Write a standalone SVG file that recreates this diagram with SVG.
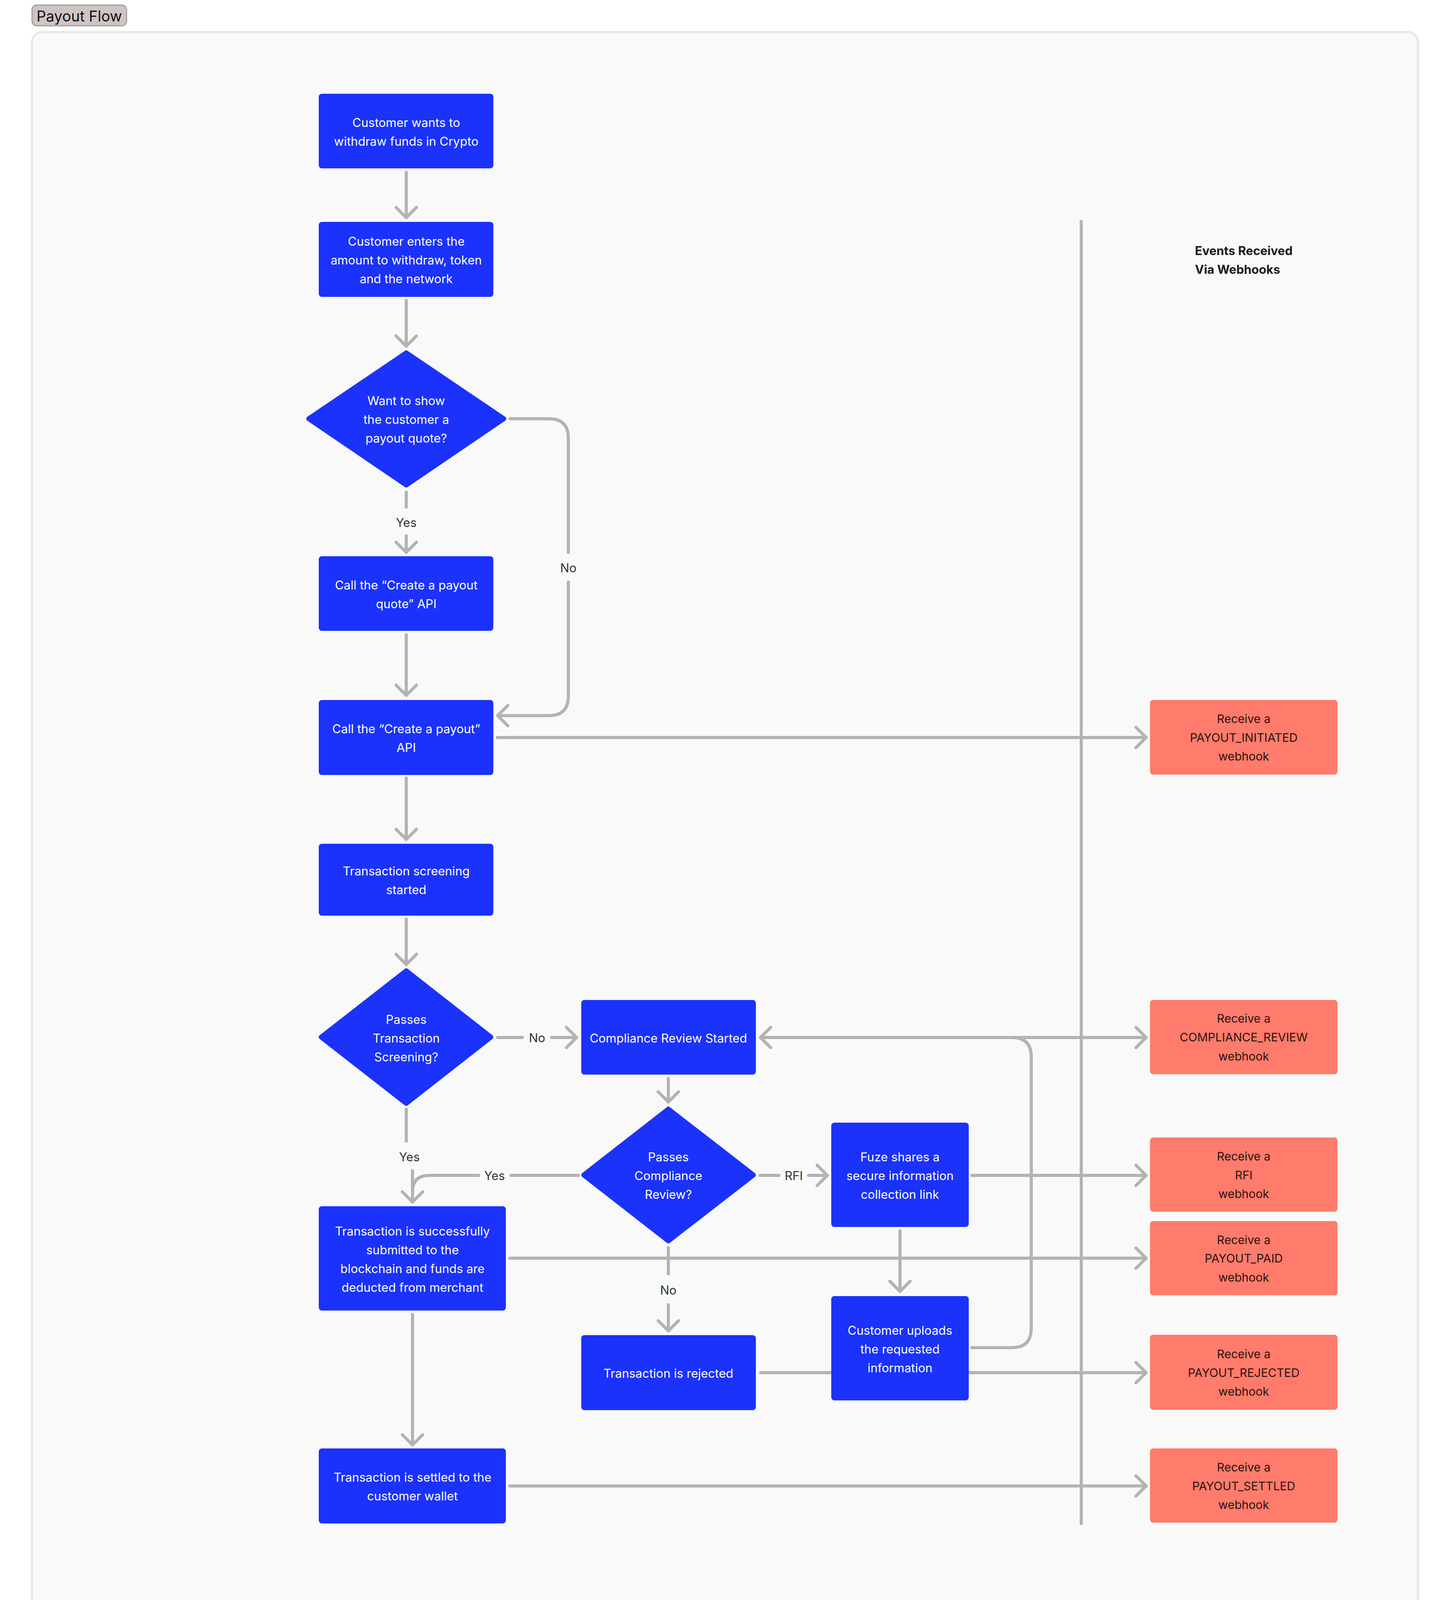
<svg xmlns="http://www.w3.org/2000/svg" width="3712" height="4352" viewBox="0 0 3712 4352">
<defs>
<style>
.n{fill:#1b32fb}
.d{fill:#1b32fb;stroke:#1b32fb;stroke-width:12;stroke-linejoin:round}
.w{fill:#ff7b6b}
.t{font-family:Inter,"Liberation Sans",sans-serif;font-size:31px;fill:#ffffff;text-anchor:middle;dominant-baseline:central}
.tw{font-family:Inter,"Liberation Sans",sans-serif;font-size:30px;fill:#2b1412;text-anchor:middle;dominant-baseline:central}
.l{font-family:Inter,"Liberation Sans",sans-serif;font-size:31px;fill:#333333;text-anchor:middle;dominant-baseline:central}
.c{fill:none;stroke:#b3b3b3;stroke-width:8;stroke-linecap:round;stroke-linejoin:round}
</style>
<marker id="a" markerUnits="userSpaceOnUse" markerWidth="40" markerHeight="64" viewBox="0 0 40 64" refX="34" refY="32" orient="auto">
<path d="M8,6 L34,32 L8,58" fill="none" stroke="#b3b3b3" stroke-width="8" stroke-linecap="round" stroke-linejoin="round"/>
</marker>
<marker id="as" markerUnits="userSpaceOnUse" markerWidth="40" markerHeight="64" viewBox="0 0 40 64" refX="6" refY="32" orient="auto">
<path d="M32,6 L6,32 L32,58" fill="none" stroke="#b3b3b3" stroke-width="8" stroke-linecap="round" stroke-linejoin="round"/>
</marker>
</defs>
<rect width="3712" height="4352" fill="#ffffff"/>
<rect x="82" y="82" width="3548" height="4186" rx="26" fill="#f9f9f9" stroke="#e6e6e6" stroke-width="5"/>
<g id="title">
<rect x="82" y="13" width="242" height="53" rx="12" fill="#cfc4c4" stroke="#a99d9d" stroke-width="3"/>
<text x="203" y="41" font-family="Inter,'Liberation Sans',sans-serif" font-size="38" fill="#111111" text-anchor="middle" dominant-baseline="central">Payout Flow</text>
</g>
<g id="lane">
<line x1="2768" y1="567" x2="2768" y2="3900" stroke="#b3b3b3" stroke-width="8" stroke-linecap="round"/>
<text x="3059" y="641" font-family="Inter,'Liberation Sans',sans-serif" font-size="31" font-weight="bold" fill="#1a1a1a" dominant-baseline="central">Events Received</text>
<text x="3059" y="689" font-family="Inter,'Liberation Sans',sans-serif" font-size="31" font-weight="bold" fill="#1a1a1a" dominant-baseline="central">Via Webhooks</text>
</g>
<g id="connectors">
<path class="c" d="M1040,441 V557" marker-end="url(#a)"/>
<path class="c" d="M1040,769 V886" marker-end="url(#a)"/>
<path class="c" d="M1040,1260 V1298"/>
<text class="l" x="1040" y="1337">Yes</text>
<path class="c" d="M1040,1372 V1414" marker-end="url(#a)"/>
<path class="c" d="M1306,1072 H1405 Q1455,1072 1455,1122 V1414"/>
<text class="l" x="1455" y="1453">No</text>
<path class="c" d="M1455,1490 V1782 Q1455,1832 1405,1832 H1274" marker-end="url(#a)"/>
<path class="c" d="M1040,1625 V1780" marker-end="url(#a)"/>
<path class="c" d="M1273,1888 H2934" marker-end="url(#a)"/>
<path class="c" d="M1040,1992 V2149" marker-end="url(#a)"/>
<path class="c" d="M1040,2353 V2469" marker-end="url(#a)"/>
<path class="c" d="M1274,2656 H1337"/>
<text class="l" x="1375" y="2656">No</text>
<path class="c" d="M1412,2656 H1476" marker-end="url(#a)"/>
<path class="c" d="M1955,2656 H2934" marker-end="url(#a)"/>
<path class="c" d="M2488,3450 H2590 Q2640,3450 2640,3400 V2706 Q2640,2656 2590,2656 H1947" marker-end="url(#a)"/>
<path class="c" d="M1711,2761 V2821" marker-end="url(#a)"/>
<path class="c" d="M1040,2840 V2921"/>
<text class="l" x="1048" y="2961">Yes</text>
<path class="c" d="M1481,3009 H1308"/>
<text class="l" x="1266" y="3009">Yes</text>
<path class="c" d="M1225,3009 H1100 Q1056,3009 1056,3050 V3077"/>
<path class="c" d="M1056,2997 V3077" marker-end="url(#a)"/>
<path class="c" d="M1946,3009 H1994"/>
<text class="l" x="2032" y="3009">RFI</text>
<path class="c" d="M2070,3009 H2118" marker-end="url(#a)"/>
<path class="c" d="M2488,3009 H2934" marker-end="url(#a)"/>
<path class="c" d="M1305,3221 H2934" marker-end="url(#a)"/>
<path class="c" d="M2304,3151 V3306" marker-end="url(#a)"/>
<path class="c" d="M1711,3194 V3261"/>
<text class="l" x="1711" y="3302">No</text>
<path class="c" d="M1711,3340 V3407" marker-end="url(#a)"/>
<path class="c" d="M1947,3514 H2934" marker-end="url(#a)"/>
<path class="c" d="M1056,3365 V3699" marker-end="url(#a)"/>
<path class="c" d="M1305,3804 H2934" marker-end="url(#a)"/>
</g>
<g id="n1"><rect class="n" x="816" y="240" width="447" height="191" rx="8"/><text class="t" x="1040" y="313">Customer wants to</text><text class="t" x="1040" y="361">withdraw funds in Crypto</text></g>
<g id="n2"><rect class="n" x="816" y="568" width="447" height="192" rx="8"/><text class="t" x="1040" y="617">Customer enters the</text><text class="t" x="1040" y="665">amount to withdraw, token</text><text class="t" x="1040" y="713">and the network</text></g>
<g id="n3"><polygon class="d" points="1040,903 1290,1072 1040,1242 790,1072"/><text class="t" x="1040" y="1025">Want to show</text><text class="t" x="1040" y="1073">the customer a</text><text class="t" x="1040" y="1121">payout quote?</text></g>
<g id="n4"><rect class="n" x="816" y="1424" width="447" height="191" rx="8"/><text class="t" x="1040" y="1497">Call the “Create a payout</text><text class="t" x="1040" y="1545">quote” API</text></g>
<g id="n5"><rect class="n" x="816" y="1792" width="447" height="192" rx="8"/><text class="t" x="1040" y="1865">Call the “Create a payout”</text><text class="t" x="1040" y="1913">API</text></g>
<g id="n6"><rect class="n" x="816" y="2160" width="447" height="184" rx="8"/><text class="t" x="1040" y="2229">Transaction screening</text><text class="t" x="1040" y="2277">started</text></g>
<g id="n7"><polygon class="d" points="1040,2485 1257,2655 1040,2825 822,2655"/><text class="t" x="1040" y="2609">Passes</text><text class="t" x="1040" y="2657">Transaction</text><text class="t" x="1040" y="2705">Screening?</text></g>
<g id="n8"><rect class="n" x="1488" y="2560" width="447" height="191" rx="8"/><text class="t" x="1711" y="2657">Compliance Review Started</text></g>
<g id="n9"><polygon class="d" points="1711,2839 1929,3008 1711,3177 1494,3008"/><text class="t" x="1711" y="2961">Passes</text><text class="t" x="1711" y="3009">Compliance</text><text class="t" x="1711" y="3057">Review?</text></g>
<g id="n10"><rect class="n" x="2128" y="2874" width="352" height="267" rx="8"/><text class="t" x="2304" y="2961">Fuze shares a</text><text class="t" x="2304" y="3009">secure information</text><text class="t" x="2304" y="3057">collection link</text></g>
<g id="n11"><rect class="n" x="816" y="3088" width="479" height="267" rx="8"/><text class="t" x="1056" y="3151">Transaction is successfully</text><text class="t" x="1056" y="3199">submitted to the</text><text class="t" x="1056" y="3247">blockchain and funds are</text><text class="t" x="1056" y="3295">deducted from merchant</text></g>
<g id="n12"><rect class="n" x="2128" y="3318" width="352" height="267" rx="8"/><text class="t" x="2304" y="3405">Customer uploads</text><text class="t" x="2304" y="3453">the requested</text><text class="t" x="2304" y="3501">information</text></g>
<g id="n13"><rect class="n" x="1488" y="3418" width="447" height="192" rx="8"/><text class="t" x="1711" y="3515">Transaction is rejected</text></g>
<g id="n14"><rect class="n" x="816" y="3708" width="479" height="192" rx="8"/><text class="t" x="1056" y="3781">Transaction is settled to the</text><text class="t" x="1056" y="3829">customer wallet</text></g>
<g id="w1"><rect class="w" x="2944" y="1792" width="480" height="191" rx="8"/><text class="tw" x="3184" y="1840">Receive a</text><text class="tw" x="3184" y="1888">PAYOUT_INITIATED</text><text class="tw" x="3184" y="1936">webhook</text></g>
<g id="w2"><rect class="w" x="2944" y="2560" width="480" height="190" rx="8"/><text class="tw" x="3184" y="2607">Receive a</text><text class="tw" x="3184" y="2655">COMPLIANCE_REVIEW</text><text class="tw" x="3184" y="2704">webhook</text></g>
<g id="w3"><rect class="w" x="2944" y="2912" width="480" height="190" rx="8"/><text class="tw" x="3184" y="2960">Receive a</text><text class="tw" x="3184" y="3008">RFI</text><text class="tw" x="3184" y="3056">webhook</text></g>
<g id="w4"><rect class="w" x="2944" y="3126" width="480" height="190" rx="8"/><text class="tw" x="3184" y="3174">Receive a</text><text class="tw" x="3184" y="3221">PAYOUT_PAID</text><text class="tw" x="3184" y="3270">webhook</text></g>
<g id="w5"><rect class="w" x="2944" y="3417" width="480" height="192" rx="8"/><text class="tw" x="3184" y="3466">Receive a</text><text class="tw" x="3184" y="3514">PAYOUT_REJECTED</text><text class="tw" x="3184" y="3562">webhook</text></g>
<g id="w6"><rect class="w" x="2944" y="3708" width="480" height="190" rx="8"/><text class="tw" x="3184" y="3756">Receive a</text><text class="tw" x="3184" y="3804">PAYOUT_SETTLED</text><text class="tw" x="3184" y="3852">webhook</text></g>
</svg>
